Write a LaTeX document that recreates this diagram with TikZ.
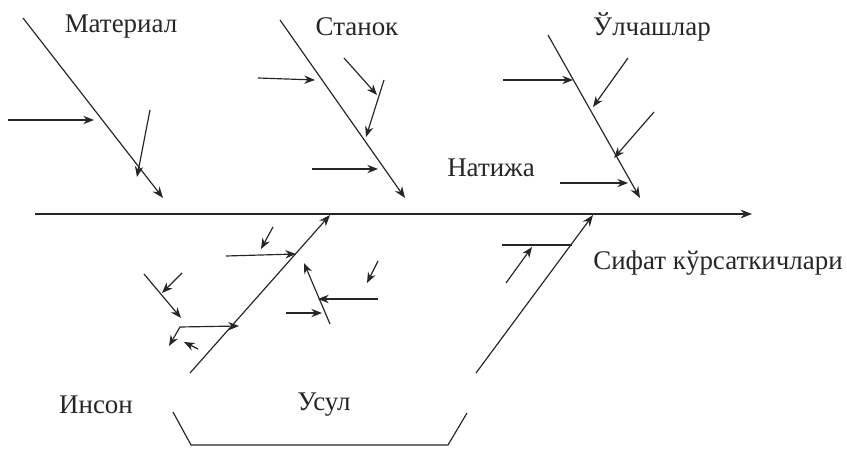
\documentclass[tikz,border=0pt]{standalone}
\usepackage{fontspec}
\setmainfont{Liberation Serif}
\usetikzlibrary{arrows.meta}

\begin{document}
\begin{tikzpicture}[x=0.3mm,y=-0.3mm,
    bone/.style={line width=1pt,draw=black!85,-{Stealth[length=3.4mm,width=2.6mm]}},
    twig/.style={line width=1pt,draw=black!85,-{Stealth[length=3.2mm,width=2.5mm]}},
    plain/.style={line width=1pt,draw=black!85},
    lbl/.style={font=\fontsize{23}{27}\selectfont,text=black!85,inner sep=0pt}]
    \useasboundingbox (0,0) rectangle (847,449);
    % labels
    \node[lbl] (mat) at (121,27)  {Материал};
    \node[lbl] (stn) at (357,27)  {Станок};
    \node[lbl] (olc) at (652,27)  {Ўлчашлар};
    \node[lbl] (nat) at (491,168) {Натижа};
    \node[lbl] (sif) at (718,263) {Сифат кўрсаткичлари};
    \node[lbl] (ins) at (96,405)  {Инсон};
    \node[lbl] (usl) at (324,405) {Усул};
    % spine
    \coordinate (sp0) at (35,214);
    \coordinate (sp1) at (752,214);
    \draw[bone,line width=1.3pt] (sp0) -- (sp1);
    % Материал
    \coordinate (m0) at (23,18);   \coordinate (m1) at (163,198);
    \coordinate (m2) at (8,120);   \coordinate (m3) at (94,120);
    \coordinate (m4) at (150,110); \coordinate (m5) at (137,177);
    \draw[bone] (m0) -- (m1);
    \draw[twig] (m2) -- (m3);
    \draw[twig] (m4) -- (m5);
    % Станок
    \coordinate (s0) at (280,20);  \coordinate (s1) at (405,198);
    \coordinate (s2) at (258,78);  \coordinate (s3) at (315,80);
    \coordinate (s4) at (344,58);  \coordinate (s5) at (377,95);
    \coordinate (s6) at (384,80);  \coordinate (s7) at (366,137);
    \coordinate (s8) at (312,169); \coordinate (s9) at (378,169);
    \draw[bone] (s0) -- (s1);
    \draw[twig] (s2) -- (s3);
    \draw[twig] (s4) -- (s5);
    \draw[twig] (s6) -- (s7);
    \draw[twig] (s8) -- (s9);
    % Ўлчашлар
    \coordinate (u0) at (548,35);  \coordinate (u1) at (640,198);
    \coordinate (u2) at (503,80);  \coordinate (u3) at (573,80);
    \coordinate (u4) at (628,58);  \coordinate (u5) at (593,107);
    \coordinate (u6) at (654,112); \coordinate (u7) at (614,158);
    \coordinate (u8) at (560,183); \coordinate (u9) at (628,183);
    \draw[bone] (u0) -- (u1);
    \draw[twig] (u2) -- (u3);
    \draw[twig] (u4) -- (u5);
    \draw[twig] (u6) -- (u7);
    \draw[twig] (u8) -- (u9);
    % Инсон
    \coordinate (i0) at (190,373); \coordinate (i1) at (330,215);
    \coordinate (i2) at (226,256); \coordinate (i3) at (296,254);
    \coordinate (i4) at (273,227); \coordinate (i5) at (261,249);
    \coordinate (i6) at (144,274); \coordinate (i7) at (181,318);
    \coordinate (i8) at (182,273); \coordinate (i9) at (162,293);
    \coordinate (ia) at (169,346); \coordinate (ib) at (180,327);
    \coordinate (ic) at (239,326);
    \coordinate (id) at (198,349); \coordinate (ie) at (184,342);
    \draw[bone] (i0) -- (i1);
    \draw[twig] (i2) -- (i3);
    \draw[twig] (i4) -- (i5);
    \draw[twig] (i6) -- (i7);
    \draw[twig] (i8) -- (i9);
    \draw[twig,{Stealth[length=3.2mm,width=2.5mm]}-{Stealth[length=3.2mm,width=2.5mm]}] (ia) -- (ib) -- (ic);
    \draw[twig] (id) -- (ie);
    % Усул
    \coordinate (k0) at (330,324); \coordinate (k1) at (304,263);
    \coordinate (k2) at (378,299); \coordinate (k3) at (318,299);
    \coordinate (k4) at (286,313); \coordinate (k5) at (322,313);
    \coordinate (k6) at (378,261); \coordinate (k7) at (367,283);
    \draw[twig] (k0) -- (k1);
    \draw[twig] (k2) -- (k3);
    \draw[twig] (k4) -- (k5);
    \draw[twig] (k6) -- (k7);
    % Сифат кўрсаткичлари
    \coordinate (r0) at (476,373); \coordinate (r1) at (593,215);
    \coordinate (r2) at (502,245); \coordinate (r3) at (572,245);
    \coordinate (r4) at (506,283); \coordinate (r5) at (532,247);
    \draw[bone] (r0) -- (r1);
    \draw[plain] (r2) -- (r3);
    \draw[twig] (r4) -- (r5);
    % bracket
    \coordinate (b0) at (173,412); \coordinate (b1) at (191,445);
    \coordinate (b2) at (448,445); \coordinate (b3) at (467,413);
    \draw[plain] (b0) -- (b1) -- (b2) -- (b3);
  \end{tikzpicture}
\end{document}
